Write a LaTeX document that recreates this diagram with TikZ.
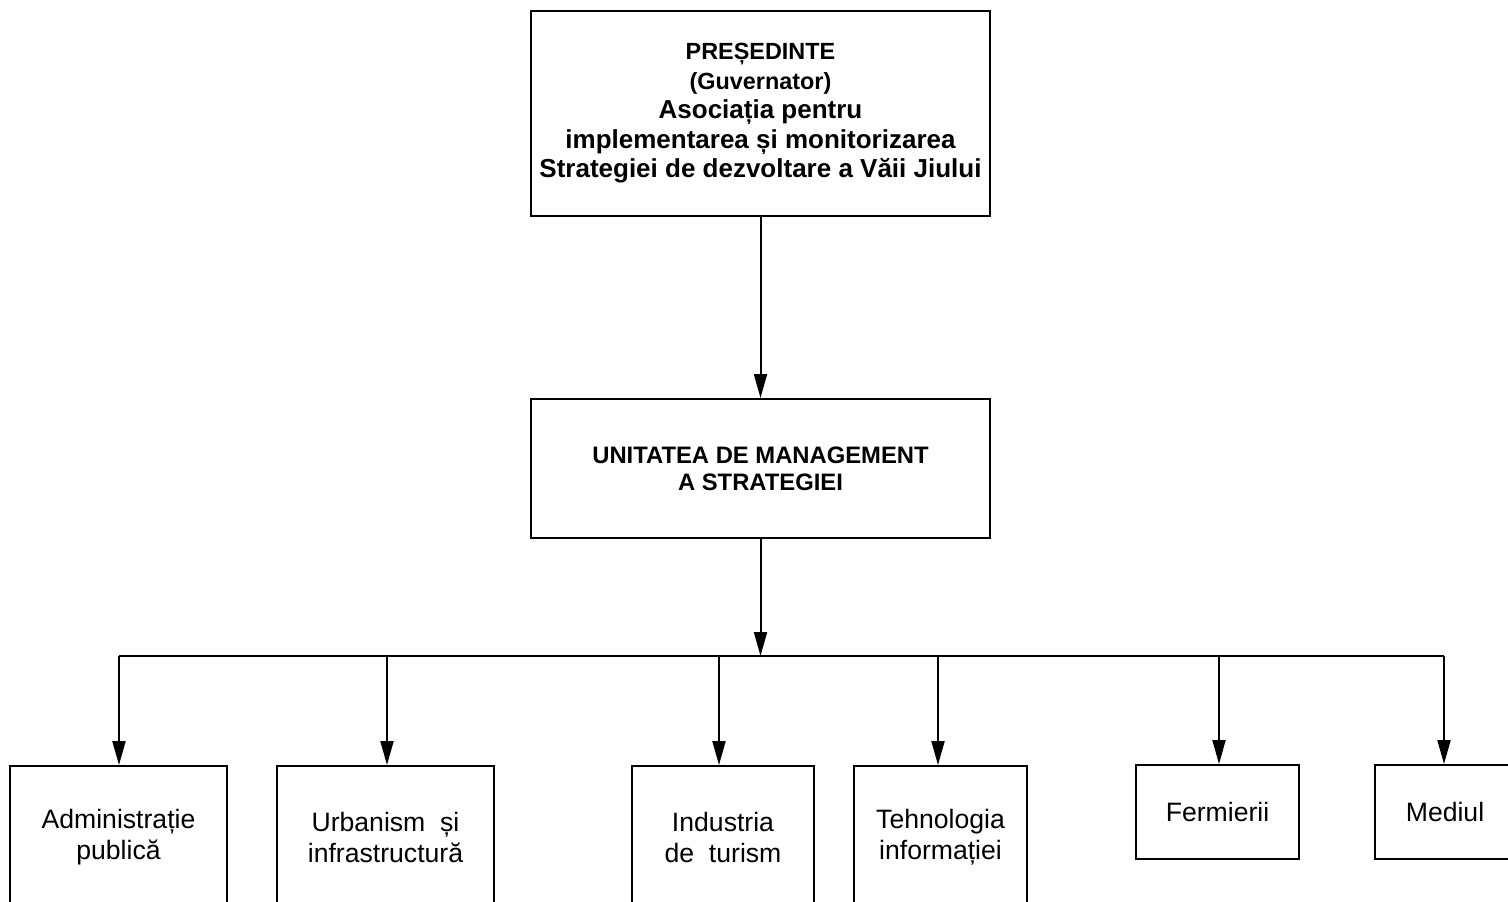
\documentclass[tikz,border=0pt]{standalone}
\usepackage{fontspec}
\setmainfont{Liberation Sans}
\usetikzlibrary{arrows.meta, positioning}

\begin{document}
\begin{tikzpicture}[x=0.5pt, y=-0.5pt,
    box/.style={draw, line width=1pt, inner sep=0pt, align=center},
    sector/.style={box, minimum height=71pt, font=\fontsize{13.3}{15.5}\selectfont},
    arr/.style={-{Triangle[length=12pt, width=6.5pt]}, line width=1pt}]
        \path[use as bounding box, clip] (0,0) rectangle (1508,901);

        % top and management unit
        \node[box, minimum width=229.5pt, minimum height=102.5pt,
              font=\bfseries\fontsize{13}{14.75}\selectfont] (pres) at (760.5,113.5)
              {{\fontsize{11.7}{14.75}\selectfont PREȘEDINTE}\\
               {\fontsize{11.7}{14.75}\selectfont (Guvernator)}\\
               Asociația pentru\\
               implementarea și monitorizarea\\
               Strategiei de dezvoltare a Văii Jiului};
        \node[box, minimum width=229.5pt, minimum height=69.5pt,
              font=\bfseries\fontsize{11.9}{13.5}\selectfont] (unit) at (760.5,468.5)
              {UNITATEA DE MANAGEMENT\\A STRATEGIEI};

        % sectors
        \node[sector, minimum width=108.5pt] (adm) at (118.5,837) {Administrație\\publică};
        \node[sector, minimum width=108.5pt] (urb) at (385.5,837) {Urbanism~~și\\infrastructură};
        \node[sector, minimum width=91pt] (tur) at (723,837) {Industria\\de~~turism};
        \node[sector, minimum width=86.5pt] (tech) at (940.5,837) {Tehnologia\\informației};
        \node[sector, minimum width=81.5pt, minimum height=47pt] (ferm) at (1217.5,812) {Fermierii};
        \node[sector, minimum width=70pt, minimum height=47pt] (med) at (1445,812) {Mediul};

        \draw[arr] (pres) -- (unit);
        \coordinate (hub) at (760.5,656);
        \draw[arr] (unit) -- (hub);

        \foreach \n/\x in {adm/119, urb/387, tur/719, tech/938, ferm/1219, med/1444} {
          \coordinate (t-\n) at (\x,656);
          \draw[arr] (t-\n) -- (t-\n |- \n.north);
        }
        \draw[line width=1pt] (t-adm) -- (t-med);
      \end{tikzpicture}
\end{document}
